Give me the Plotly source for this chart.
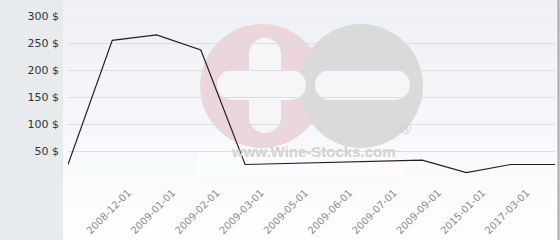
import plotly.graph_objects as go

# ---- data ----
point_index = list(range(12))
prices = [25, 255, 265, 237, 25, 27, 29, 30, 33, 10, 25, 25]
tick_dates = ["2008-12-01", "2009-01-01", "2009-02-01", "2009-03-01", "2009-05-01",
              "2009-06-01", "2009-07-01", "2009-09-01", "2015-01-01", "2017-03-01"]
tick_pos = [1, 2, 3, 4, 5, 6, 7, 8, 9, 10]
y_ticks = [0, 50, 100, 150, 200, 250, 300]
y_labels = ["", "50 $", "100 $", "150 $", "200 $", "250 $", "300 $"]

W, H = 560, 240
L, R, T, B = 68, 555, 16, 178
PW, PH = R - L, B - T


def px(x):
    return (x - L) / PW


def py(y):
    return (B - y) / PH


shapes = []
# background panel with vertical gradient
n = 24
top = (238, 240, 245)
bot = (254, 254, 255)
for i in range(n):
    y0 = H * i / n
    y1 = H * (i + 1) / n + 0.5
    t = i / (n - 1)
    c = tuple(int(round(top[k] + (bot[k] - top[k]) * t)) for k in range(3))
    shapes.append(dict(type="rect", xref="paper", yref="paper", layer="below",
                       x0=px(63), x1=px(558), y0=py(y1), y1=py(y0),
                       fillcolor="rgb(%d,%d,%d)" % c, line=dict(width=0)))
# right border
shapes.append(dict(type="line", xref="paper", yref="paper", layer="above",
                   x0=px(558.5), x1=px(558.5), y0=py(0), y1=py(H),
                   line=dict(color="#a8a8a8", width=2)))


def circ(cx, cy, r, color):
    return dict(type="circle", xref="paper", yref="paper", layer="below",
                x0=px(cx - r), x1=px(cx + r), y0=py(cy + r), y1=py(cy - r),
                fillcolor=color, line=dict(width=0))


def rect(x0, x1, y0, y1, color):
    return dict(type="rect", xref="paper", yref="paper", layer="below",
                x0=px(x0), x1=px(x1), y0=py(y1), y1=py(y0),
                fillcolor=color, line=dict(width=0))


def pill(x0, x1, y0, y1, color):
    out = []
    if x1 - x0 >= y1 - y0:
        r = (y1 - y0) / 2
        out.append(rect(x0 + r, x1 - r, y0, y1, color))
        out.append(circ(x0 + r, (y0 + y1) / 2, r, color))
        out.append(circ(x1 - r, (y0 + y1) / 2, r, color))
    else:
        r = (x1 - x0) / 2
        out.append(rect(x0, x1, y0 + r, y1 - r, color))
        out.append(circ((x0 + x1) / 2, y0 + r, r, color))
        out.append(circ((x0 + x1) / 2, y1 - r, r, color))
    return out


pink = "#ebd6dc"
grey = "#dadada"
wm = "#f6f6f8"
# soft white box behind url text
shapes.append(rect(197, 402, 152, 177, "rgba(255,255,255,0.35)"))
shapes.append(circ(262, 86, 62, pink))
shapes.append(circ(361, 86, 62, grey))
shapes += pill(249, 281, 38, 133, wm)
shapes += pill(217, 306, 70, 100, wm)
shapes += pill(315, 410, 70, 100, wm)

annotations = [
    dict(text="<b>www.Wine-Stocks.com</b>", xref="paper", yref="paper",
         x=px(313), y=py(162), showarrow=False,
         font=dict(family="Liberation Sans", size=15, color="#d2d2d2")),
    dict(text="®", xref="paper", yref="paper", x=px(413), y=py(139), showarrow=False,
         font=dict(family="Liberation Sans", size=15, color="#cfcfcf")),
]

fig = go.Figure()
fig.add_trace(go.Scatter(x=point_index, y=prices, mode="lines",
                         line=dict(color="#2e1a24", width=1.2), hoverinfo="skip"))

fig.update_layout(
    width=W, height=H,
    margin=dict(l=L, r=W - R, t=T, b=H - B, pad=0),
    paper_bgcolor="#e7ebee",
    plot_bgcolor="rgba(0,0,0,0)",
    showlegend=False,
    shapes=shapes,
    annotations=annotations,
    font=dict(family="DejaVu Sans", size=11, color="#333333"),
)
fig.update_xaxes(range=[0, 11], tickmode="array",
                 tickvals=[p + 0.36 for p in tick_pos], ticktext=tick_dates,
                 tickangle=-45, showgrid=False, zeroline=False, showline=False,
                 ticks="", ticklabelstandoff=6, tickfont=dict(size=10, color="#8a8a8a"))
fig.update_yaxes(range=[0, 300], tickmode="array", tickvals=y_ticks, ticktext=y_labels,
                 showgrid=True, gridcolor="#dddddd", gridwidth=1, zeroline=False,
                 showline=False, ticks="", ticklabelstandoff=8,
                 tickfont=dict(size=11, color="#333333"))

fig.write_html("out.html")
